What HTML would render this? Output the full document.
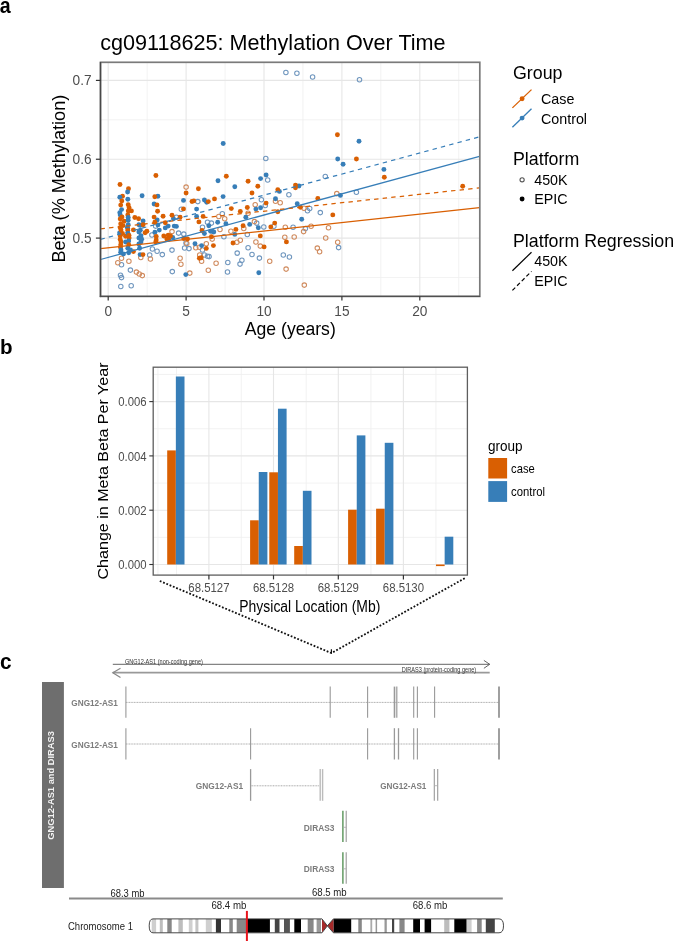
<!DOCTYPE html>
<html><head><meta charset="utf-8"><style>
html,body{margin:0;padding:0;background:#fff;}
body{width:674px;height:941px;overflow:hidden;}
svg{display:block;font-family:"Liberation Sans", sans-serif;will-change:transform;}
</style></head><body>
<svg width="674" height="941" viewBox="0 0 674 941">
<text transform="translate(-0.3,12.7) scale(1,1.12)" x="0" y="0" font-size="19.6" fill="#000" text-anchor="start" font-weight="bold" >a</text>
<text transform="translate(100.3,49.9) scale(1,1.06)" x="0" y="0" font-size="21.6" fill="#000" text-anchor="start" font-weight="normal" >cg09118625: Methylation Over Time</text>
<rect x="100.5" y="62.6" width="379.0" height="233.79999999999998" fill="#fff"/>
<line x1="147.15" y1="62.6" x2="147.15" y2="296.4" stroke="#efefef" stroke-width="0.8"/>
<line x1="225.05" y1="62.6" x2="225.05" y2="296.4" stroke="#efefef" stroke-width="0.8"/>
<line x1="302.95" y1="62.6" x2="302.95" y2="296.4" stroke="#efefef" stroke-width="0.8"/>
<line x1="380.85" y1="62.6" x2="380.85" y2="296.4" stroke="#efefef" stroke-width="0.8"/>
<line x1="458.75" y1="62.6" x2="458.75" y2="296.4" stroke="#efefef" stroke-width="0.8"/>
<line x1="100.5" y1="119.82" x2="479.5" y2="119.82" stroke="#efefef" stroke-width="0.8"/>
<line x1="100.5" y1="198.67" x2="479.5" y2="198.67" stroke="#efefef" stroke-width="0.8"/>
<line x1="100.5" y1="277.52" x2="479.5" y2="277.52" stroke="#efefef" stroke-width="0.8"/>
<line x1="108.20" y1="62.6" x2="108.20" y2="296.4" stroke="#e6e6e6" stroke-width="1.1"/>
<line x1="186.10" y1="62.6" x2="186.10" y2="296.4" stroke="#e6e6e6" stroke-width="1.1"/>
<line x1="264.00" y1="62.6" x2="264.00" y2="296.4" stroke="#e6e6e6" stroke-width="1.1"/>
<line x1="341.90" y1="62.6" x2="341.90" y2="296.4" stroke="#e6e6e6" stroke-width="1.1"/>
<line x1="419.80" y1="62.6" x2="419.80" y2="296.4" stroke="#e6e6e6" stroke-width="1.1"/>
<line x1="100.5" y1="80.40" x2="479.5" y2="80.40" stroke="#e6e6e6" stroke-width="1.1"/>
<line x1="100.5" y1="159.25" x2="479.5" y2="159.25" stroke="#e6e6e6" stroke-width="1.1"/>
<line x1="100.5" y1="238.10" x2="479.5" y2="238.10" stroke="#e6e6e6" stroke-width="1.1"/>
<g>
<circle cx="285.9" cy="72.4" r="2.25" fill="none" stroke="#6F96BE" stroke-width="1.05"/>
<circle cx="296.9" cy="73.3" r="2.25" fill="none" stroke="#6F96BE" stroke-width="1.05"/>
<circle cx="312.6" cy="77.0" r="2.25" fill="none" stroke="#6F96BE" stroke-width="1.05"/>
<circle cx="359.5" cy="79.8" r="2.25" fill="none" stroke="#6F96BE" stroke-width="1.05"/>
<circle cx="265.8" cy="158.4" r="2.25" fill="none" stroke="#6F96BE" stroke-width="1.05"/>
<circle cx="325.3" cy="176.5" r="2.25" fill="none" stroke="#6F96BE" stroke-width="1.05"/>
<circle cx="288.9" cy="194.8" r="2.25" fill="none" stroke="#6F96BE" stroke-width="1.05"/>
<circle cx="356.4" cy="192.2" r="2.25" fill="none" stroke="#6F96BE" stroke-width="1.05"/>
<circle cx="307.5" cy="210.8" r="2.25" fill="none" stroke="#6F96BE" stroke-width="1.05"/>
<circle cx="309.7" cy="208.5" r="2.25" fill="none" stroke="#6F96BE" stroke-width="1.05"/>
<circle cx="320.3" cy="212.6" r="2.25" fill="none" stroke="#6F96BE" stroke-width="1.05"/>
<circle cx="305.4" cy="228.6" r="2.25" fill="none" stroke="#6F96BE" stroke-width="1.05"/>
<circle cx="338.6" cy="247.6" r="2.25" fill="none" stroke="#6F96BE" stroke-width="1.05"/>
<circle cx="289.4" cy="257.0" r="2.25" fill="none" stroke="#6F96BE" stroke-width="1.05"/>
<circle cx="267.7" cy="180.0" r="2.25" fill="none" stroke="#6F96BE" stroke-width="1.05"/>
<circle cx="261.4" cy="199.7" r="2.25" fill="none" stroke="#6F96BE" stroke-width="1.05"/>
<circle cx="265.3" cy="205.5" r="2.25" fill="none" stroke="#6F96BE" stroke-width="1.05"/>
<circle cx="222.3" cy="213.8" r="2.25" fill="none" stroke="#6F96BE" stroke-width="1.05"/>
<circle cx="197.8" cy="201.6" r="2.25" fill="none" stroke="#6F96BE" stroke-width="1.05"/>
<circle cx="207.5" cy="222.2" r="2.25" fill="none" stroke="#6F96BE" stroke-width="1.05"/>
<circle cx="211.4" cy="223.1" r="2.25" fill="none" stroke="#6F96BE" stroke-width="1.05"/>
<circle cx="256.7" cy="223.1" r="2.25" fill="none" stroke="#6F96BE" stroke-width="1.05"/>
<circle cx="202.5" cy="227.3" r="2.25" fill="none" stroke="#6F96BE" stroke-width="1.05"/>
<circle cx="263.8" cy="227.0" r="2.25" fill="none" stroke="#6F96BE" stroke-width="1.05"/>
<circle cx="273.9" cy="226.3" r="2.25" fill="none" stroke="#6F96BE" stroke-width="1.05"/>
<circle cx="293.1" cy="227.3" r="2.25" fill="none" stroke="#6F96BE" stroke-width="1.05"/>
<circle cx="223.9" cy="236.7" r="2.25" fill="none" stroke="#6F96BE" stroke-width="1.05"/>
<circle cx="247.3" cy="234.4" r="2.25" fill="none" stroke="#6F96BE" stroke-width="1.05"/>
<circle cx="248.1" cy="247.7" r="2.25" fill="none" stroke="#6F96BE" stroke-width="1.05"/>
<circle cx="202.5" cy="250.0" r="2.25" fill="none" stroke="#6F96BE" stroke-width="1.05"/>
<circle cx="237.2" cy="253.1" r="2.25" fill="none" stroke="#6F96BE" stroke-width="1.05"/>
<circle cx="252.0" cy="254.4" r="2.25" fill="none" stroke="#6F96BE" stroke-width="1.05"/>
<circle cx="259.4" cy="258.1" r="2.25" fill="none" stroke="#6F96BE" stroke-width="1.05"/>
<circle cx="283.3" cy="255.0" r="2.25" fill="none" stroke="#6F96BE" stroke-width="1.05"/>
<circle cx="204.4" cy="255.0" r="2.25" fill="none" stroke="#6F96BE" stroke-width="1.05"/>
<circle cx="207.5" cy="256.3" r="2.25" fill="none" stroke="#6F96BE" stroke-width="1.05"/>
<circle cx="209.1" cy="256.6" r="2.25" fill="none" stroke="#6F96BE" stroke-width="1.05"/>
<circle cx="227.8" cy="262.5" r="2.25" fill="none" stroke="#6F96BE" stroke-width="1.05"/>
<circle cx="241.9" cy="260.2" r="2.25" fill="none" stroke="#6F96BE" stroke-width="1.05"/>
<circle cx="240.0" cy="264.1" r="2.25" fill="none" stroke="#6F96BE" stroke-width="1.05"/>
<circle cx="227.5" cy="271.9" r="2.25" fill="none" stroke="#6F96BE" stroke-width="1.05"/>
<circle cx="181.3" cy="209.3" r="2.25" fill="none" stroke="#6F96BE" stroke-width="1.05"/>
<circle cx="176.4" cy="217.2" r="2.25" fill="none" stroke="#6F96BE" stroke-width="1.05"/>
<circle cx="155.6" cy="226.1" r="2.25" fill="none" stroke="#6F96BE" stroke-width="1.05"/>
<circle cx="178.6" cy="233.1" r="2.25" fill="none" stroke="#6F96BE" stroke-width="1.05"/>
<circle cx="183.8" cy="234.1" r="2.25" fill="none" stroke="#6F96BE" stroke-width="1.05"/>
<circle cx="151.9" cy="235.0" r="2.25" fill="none" stroke="#6F96BE" stroke-width="1.05"/>
<circle cx="186.0" cy="243.0" r="2.25" fill="none" stroke="#6F96BE" stroke-width="1.05"/>
<circle cx="184.6" cy="247.9" r="2.25" fill="none" stroke="#6F96BE" stroke-width="1.05"/>
<circle cx="189.0" cy="248.6" r="2.25" fill="none" stroke="#6F96BE" stroke-width="1.05"/>
<circle cx="172.0" cy="250.1" r="2.25" fill="none" stroke="#6F96BE" stroke-width="1.05"/>
<circle cx="157.1" cy="251.3" r="2.25" fill="none" stroke="#6F96BE" stroke-width="1.05"/>
<circle cx="162.3" cy="254.6" r="2.25" fill="none" stroke="#6F96BE" stroke-width="1.05"/>
<circle cx="149.7" cy="254.9" r="2.25" fill="none" stroke="#6F96BE" stroke-width="1.05"/>
<circle cx="121.5" cy="264.7" r="2.25" fill="none" stroke="#6F96BE" stroke-width="1.05"/>
<circle cx="130.4" cy="270.1" r="2.25" fill="none" stroke="#6F96BE" stroke-width="1.05"/>
<circle cx="120.5" cy="275.3" r="2.25" fill="none" stroke="#6F96BE" stroke-width="1.05"/>
<circle cx="121.5" cy="277.6" r="2.25" fill="none" stroke="#6F96BE" stroke-width="1.05"/>
<circle cx="120.8" cy="286.5" r="2.25" fill="none" stroke="#6F96BE" stroke-width="1.05"/>
<circle cx="131.2" cy="285.7" r="2.25" fill="none" stroke="#6F96BE" stroke-width="1.05"/>
<circle cx="172.3" cy="271.6" r="2.25" fill="none" stroke="#6F96BE" stroke-width="1.05"/>
<circle cx="152.4" cy="248.9" r="2.25" fill="none" stroke="#6F96BE" stroke-width="1.05"/>
<circle cx="336.8" cy="193.6" r="2.25" fill="none" stroke="#D08B5E" stroke-width="1.05"/>
<circle cx="304.0" cy="208.2" r="2.25" fill="none" stroke="#D08B5E" stroke-width="1.05"/>
<circle cx="303.6" cy="231.6" r="2.25" fill="none" stroke="#D08B5E" stroke-width="1.05"/>
<circle cx="311.1" cy="226.3" r="2.25" fill="none" stroke="#D08B5E" stroke-width="1.05"/>
<circle cx="328.5" cy="227.7" r="2.25" fill="none" stroke="#D08B5E" stroke-width="1.05"/>
<circle cx="294.2" cy="236.9" r="2.25" fill="none" stroke="#D08B5E" stroke-width="1.05"/>
<circle cx="325.7" cy="238.0" r="2.25" fill="none" stroke="#D08B5E" stroke-width="1.05"/>
<circle cx="337.7" cy="242.3" r="2.25" fill="none" stroke="#D08B5E" stroke-width="1.05"/>
<circle cx="317.3" cy="248.1" r="2.25" fill="none" stroke="#D08B5E" stroke-width="1.05"/>
<circle cx="319.6" cy="251.7" r="2.25" fill="none" stroke="#D08B5E" stroke-width="1.05"/>
<circle cx="304.3" cy="285.1" r="2.25" fill="none" stroke="#D08B5E" stroke-width="1.05"/>
<circle cx="275.5" cy="201.3" r="2.25" fill="none" stroke="#D08B5E" stroke-width="1.05"/>
<circle cx="280.2" cy="202.8" r="2.25" fill="none" stroke="#D08B5E" stroke-width="1.05"/>
<circle cx="255.2" cy="204.7" r="2.25" fill="none" stroke="#D08B5E" stroke-width="1.05"/>
<circle cx="248.1" cy="213.3" r="2.25" fill="none" stroke="#D08B5E" stroke-width="1.05"/>
<circle cx="218.8" cy="216.4" r="2.25" fill="none" stroke="#D08B5E" stroke-width="1.05"/>
<circle cx="224.7" cy="218.8" r="2.25" fill="none" stroke="#D08B5E" stroke-width="1.05"/>
<circle cx="254.4" cy="221.6" r="2.25" fill="none" stroke="#D08B5E" stroke-width="1.05"/>
<circle cx="220.0" cy="229.4" r="2.25" fill="none" stroke="#D08B5E" stroke-width="1.05"/>
<circle cx="243.8" cy="228.4" r="2.25" fill="none" stroke="#D08B5E" stroke-width="1.05"/>
<circle cx="230.9" cy="231.3" r="2.25" fill="none" stroke="#D08B5E" stroke-width="1.05"/>
<circle cx="212.2" cy="239.1" r="2.25" fill="none" stroke="#D08B5E" stroke-width="1.05"/>
<circle cx="284.8" cy="237.2" r="2.25" fill="none" stroke="#D08B5E" stroke-width="1.05"/>
<circle cx="255.9" cy="241.9" r="2.25" fill="none" stroke="#D08B5E" stroke-width="1.05"/>
<circle cx="236.9" cy="242.2" r="2.25" fill="none" stroke="#D08B5E" stroke-width="1.05"/>
<circle cx="240.3" cy="240.3" r="2.25" fill="none" stroke="#D08B5E" stroke-width="1.05"/>
<circle cx="206.3" cy="243.8" r="2.25" fill="none" stroke="#D08B5E" stroke-width="1.05"/>
<circle cx="195.8" cy="247.7" r="2.25" fill="none" stroke="#D08B5E" stroke-width="1.05"/>
<circle cx="260.3" cy="246.1" r="2.25" fill="none" stroke="#D08B5E" stroke-width="1.05"/>
<circle cx="199.7" cy="255.0" r="2.25" fill="none" stroke="#D08B5E" stroke-width="1.05"/>
<circle cx="201.6" cy="261.3" r="2.25" fill="none" stroke="#D08B5E" stroke-width="1.05"/>
<circle cx="216.1" cy="263.3" r="2.25" fill="none" stroke="#D08B5E" stroke-width="1.05"/>
<circle cx="269.7" cy="261.3" r="2.25" fill="none" stroke="#D08B5E" stroke-width="1.05"/>
<circle cx="208.3" cy="270.3" r="2.25" fill="none" stroke="#D08B5E" stroke-width="1.05"/>
<circle cx="286.1" cy="269.1" r="2.25" fill="none" stroke="#D08B5E" stroke-width="1.05"/>
<circle cx="285.3" cy="227.3" r="2.25" fill="none" stroke="#D08B5E" stroke-width="1.05"/>
<circle cx="186.1" cy="187.1" r="2.25" fill="none" stroke="#D08B5E" stroke-width="1.05"/>
<circle cx="172.0" cy="231.6" r="2.25" fill="none" stroke="#D08B5E" stroke-width="1.05"/>
<circle cx="186.8" cy="243.4" r="2.25" fill="none" stroke="#D08B5E" stroke-width="1.05"/>
<circle cx="199.4" cy="247.2" r="2.25" fill="none" stroke="#D08B5E" stroke-width="1.05"/>
<circle cx="150.4" cy="259.0" r="2.25" fill="none" stroke="#D08B5E" stroke-width="1.05"/>
<circle cx="140.8" cy="257.5" r="2.25" fill="none" stroke="#D08B5E" stroke-width="1.05"/>
<circle cx="121.5" cy="258.3" r="2.25" fill="none" stroke="#D08B5E" stroke-width="1.05"/>
<circle cx="117.8" cy="262.7" r="2.25" fill="none" stroke="#D08B5E" stroke-width="1.05"/>
<circle cx="128.9" cy="261.2" r="2.25" fill="none" stroke="#D08B5E" stroke-width="1.05"/>
<circle cx="180.1" cy="258.3" r="2.25" fill="none" stroke="#D08B5E" stroke-width="1.05"/>
<circle cx="180.9" cy="264.2" r="2.25" fill="none" stroke="#D08B5E" stroke-width="1.05"/>
<circle cx="136.4" cy="272.1" r="2.25" fill="none" stroke="#D08B5E" stroke-width="1.05"/>
<circle cx="139.3" cy="273.9" r="2.25" fill="none" stroke="#D08B5E" stroke-width="1.05"/>
<circle cx="142.3" cy="275.6" r="2.25" fill="none" stroke="#D08B5E" stroke-width="1.05"/>
<circle cx="189.8" cy="273.1" r="2.25" fill="none" stroke="#D08B5E" stroke-width="1.05"/>
<circle cx="223.2" cy="143.5" r="2.45" fill="#377EB8"/>
<circle cx="337.7" cy="159.0" r="2.45" fill="#377EB8"/>
<circle cx="359.0" cy="141.2" r="2.45" fill="#377EB8"/>
<circle cx="343.1" cy="164.3" r="2.45" fill="#377EB8"/>
<circle cx="383.9" cy="169.4" r="2.45" fill="#377EB8"/>
<circle cx="299.0" cy="186.0" r="2.45" fill="#377EB8"/>
<circle cx="340.4" cy="195.4" r="2.45" fill="#377EB8"/>
<circle cx="297.2" cy="203.7" r="2.45" fill="#377EB8"/>
<circle cx="301.7" cy="219.2" r="2.45" fill="#377EB8"/>
<circle cx="266.1" cy="175.0" r="2.45" fill="#377EB8"/>
<circle cx="260.6" cy="178.6" r="2.45" fill="#377EB8"/>
<circle cx="218.0" cy="180.8" r="2.45" fill="#377EB8"/>
<circle cx="234.8" cy="186.7" r="2.45" fill="#377EB8"/>
<circle cx="279.4" cy="191.4" r="2.45" fill="#377EB8"/>
<circle cx="223.1" cy="196.6" r="2.45" fill="#377EB8"/>
<circle cx="204.4" cy="200.0" r="2.45" fill="#377EB8"/>
<circle cx="206.7" cy="202.3" r="2.45" fill="#377EB8"/>
<circle cx="275.5" cy="198.8" r="2.45" fill="#377EB8"/>
<circle cx="196.6" cy="209.1" r="2.45" fill="#377EB8"/>
<circle cx="255.9" cy="209.1" r="2.45" fill="#377EB8"/>
<circle cx="260.6" cy="207.8" r="2.45" fill="#377EB8"/>
<circle cx="196.6" cy="216.4" r="2.45" fill="#377EB8"/>
<circle cx="245.8" cy="217.2" r="2.45" fill="#377EB8"/>
<circle cx="217.7" cy="222.2" r="2.45" fill="#377EB8"/>
<circle cx="225.9" cy="223.8" r="2.45" fill="#377EB8"/>
<circle cx="208.8" cy="225.8" r="2.45" fill="#377EB8"/>
<circle cx="249.7" cy="224.4" r="2.45" fill="#377EB8"/>
<circle cx="258.3" cy="227.7" r="2.45" fill="#377EB8"/>
<circle cx="212.2" cy="231.3" r="2.45" fill="#377EB8"/>
<circle cx="213.8" cy="232.0" r="2.45" fill="#377EB8"/>
<circle cx="210.6" cy="231.3" r="2.45" fill="#377EB8"/>
<circle cx="204.4" cy="233.6" r="2.45" fill="#377EB8"/>
<circle cx="195.0" cy="243.8" r="2.45" fill="#377EB8"/>
<circle cx="258.8" cy="272.7" r="2.45" fill="#377EB8"/>
<circle cx="201.6" cy="245.6" r="2.45" fill="#377EB8"/>
<circle cx="234.8" cy="234.4" r="2.45" fill="#377EB8"/>
<circle cx="142.1" cy="195.8" r="2.45" fill="#377EB8"/>
<circle cx="157.9" cy="196.3" r="2.45" fill="#377EB8"/>
<circle cx="183.5" cy="200.4" r="2.45" fill="#377EB8"/>
<circle cx="173.4" cy="218.7" r="2.45" fill="#377EB8"/>
<circle cx="157.9" cy="224.9" r="2.45" fill="#377EB8"/>
<circle cx="165.3" cy="227.9" r="2.45" fill="#377EB8"/>
<circle cx="168.2" cy="226.1" r="2.45" fill="#377EB8"/>
<circle cx="174.2" cy="226.1" r="2.45" fill="#377EB8"/>
<circle cx="176.4" cy="226.4" r="2.45" fill="#377EB8"/>
<circle cx="159.3" cy="230.1" r="2.45" fill="#377EB8"/>
<circle cx="154.9" cy="232.3" r="2.45" fill="#377EB8"/>
<circle cx="172.7" cy="237.5" r="2.45" fill="#377EB8"/>
<circle cx="140.1" cy="254.6" r="2.45" fill="#377EB8"/>
<circle cx="185.8" cy="274.6" r="2.45" fill="#377EB8"/>
<circle cx="154.1" cy="204.0" r="2.45" fill="#377EB8"/>
<circle cx="143.1" cy="220.9" r="2.45" fill="#377EB8"/>
<circle cx="157.2" cy="219.9" r="2.45" fill="#377EB8"/>
<circle cx="140.3" cy="225.4" r="2.45" fill="#377EB8"/>
<circle cx="140.3" cy="230.2" r="2.45" fill="#377EB8"/>
<circle cx="141.0" cy="235.8" r="2.45" fill="#377EB8"/>
<circle cx="141.7" cy="239.2" r="2.45" fill="#377EB8"/>
<circle cx="141.0" cy="242.0" r="2.45" fill="#377EB8"/>
<circle cx="139.6" cy="248.2" r="2.45" fill="#377EB8"/>
<circle cx="138.9" cy="224.7" r="2.45" fill="#377EB8"/>
<circle cx="138.9" cy="232.0" r="2.45" fill="#377EB8"/>
<circle cx="138.9" cy="238.0" r="2.45" fill="#377EB8"/>
<circle cx="138.9" cy="244.0" r="2.45" fill="#377EB8"/>
<circle cx="337.4" cy="134.8" r="2.45" fill="#D95F02"/>
<circle cx="356.4" cy="159.0" r="2.45" fill="#D95F02"/>
<circle cx="384.3" cy="177.2" r="2.45" fill="#D95F02"/>
<circle cx="295.5" cy="185.1" r="2.45" fill="#D95F02"/>
<circle cx="295.5" cy="187.7" r="2.45" fill="#D95F02"/>
<circle cx="317.8" cy="198.4" r="2.45" fill="#D95F02"/>
<circle cx="300.4" cy="207.3" r="2.45" fill="#D95F02"/>
<circle cx="332.8" cy="214.9" r="2.45" fill="#D95F02"/>
<circle cx="462.7" cy="186.2" r="2.45" fill="#D95F02"/>
<circle cx="226.3" cy="176.3" r="2.45" fill="#D95F02"/>
<circle cx="248.1" cy="181.3" r="2.45" fill="#D95F02"/>
<circle cx="257.8" cy="186.3" r="2.45" fill="#D95F02"/>
<circle cx="198.4" cy="188.8" r="2.45" fill="#D95F02"/>
<circle cx="252.0" cy="193.0" r="2.45" fill="#D95F02"/>
<circle cx="277.8" cy="189.8" r="2.45" fill="#D95F02"/>
<circle cx="214.5" cy="198.9" r="2.45" fill="#D95F02"/>
<circle cx="208.3" cy="201.6" r="2.45" fill="#D95F02"/>
<circle cx="266.1" cy="203.1" r="2.45" fill="#D95F02"/>
<circle cx="231.3" cy="208.6" r="2.45" fill="#D95F02"/>
<circle cx="247.3" cy="207.5" r="2.45" fill="#D95F02"/>
<circle cx="240.3" cy="211.4" r="2.45" fill="#D95F02"/>
<circle cx="277.8" cy="211.7" r="2.45" fill="#D95F02"/>
<circle cx="203.1" cy="216.4" r="2.45" fill="#D95F02"/>
<circle cx="198.9" cy="221.9" r="2.45" fill="#D95F02"/>
<circle cx="274.7" cy="223.1" r="2.45" fill="#D95F02"/>
<circle cx="243.1" cy="225.8" r="2.45" fill="#D95F02"/>
<circle cx="270.8" cy="226.9" r="2.45" fill="#D95F02"/>
<circle cx="202.0" cy="230.5" r="2.45" fill="#D95F02"/>
<circle cx="235.9" cy="229.4" r="2.45" fill="#D95F02"/>
<circle cx="211.4" cy="236.7" r="2.45" fill="#D95F02"/>
<circle cx="260.3" cy="235.9" r="2.45" fill="#D95F02"/>
<circle cx="286.4" cy="241.9" r="2.45" fill="#D95F02"/>
<circle cx="233.0" cy="243.0" r="2.45" fill="#D95F02"/>
<circle cx="213.4" cy="245.6" r="2.45" fill="#D95F02"/>
<circle cx="206.3" cy="248.4" r="2.45" fill="#D95F02"/>
<circle cx="264.1" cy="246.9" r="2.45" fill="#D95F02"/>
<circle cx="201.3" cy="257.8" r="2.45" fill="#D95F02"/>
<circle cx="155.9" cy="175.5" r="2.45" fill="#D95F02"/>
<circle cx="186.1" cy="193.0" r="2.45" fill="#D95F02"/>
<circle cx="192.0" cy="201.5" r="2.45" fill="#D95F02"/>
<circle cx="193.8" cy="200.9" r="2.45" fill="#D95F02"/>
<circle cx="183.5" cy="208.9" r="2.45" fill="#D95F02"/>
<circle cx="163.1" cy="216.3" r="2.45" fill="#D95F02"/>
<circle cx="172.0" cy="215.3" r="2.45" fill="#D95F02"/>
<circle cx="180.1" cy="217.2" r="2.45" fill="#D95F02"/>
<circle cx="165.3" cy="222.7" r="2.45" fill="#D95F02"/>
<circle cx="163.8" cy="236.0" r="2.45" fill="#D95F02"/>
<circle cx="168.2" cy="235.3" r="2.45" fill="#D95F02"/>
<circle cx="170.5" cy="236.0" r="2.45" fill="#D95F02"/>
<circle cx="166.8" cy="239.0" r="2.45" fill="#D95F02"/>
<circle cx="183.8" cy="238.5" r="2.45" fill="#D95F02"/>
<circle cx="187.5" cy="239.0" r="2.45" fill="#D95F02"/>
<circle cx="199.4" cy="258.3" r="2.45" fill="#D95F02"/>
<circle cx="143.0" cy="254.6" r="2.45" fill="#D95F02"/>
<circle cx="154.8" cy="196.7" r="2.45" fill="#D95F02"/>
<circle cx="157.0" cy="204.9" r="2.45" fill="#D95F02"/>
<circle cx="157.6" cy="211.2" r="2.45" fill="#D95F02"/>
<circle cx="134.8" cy="217.5" r="2.45" fill="#D95F02"/>
<circle cx="138.6" cy="218.8" r="2.45" fill="#D95F02"/>
<circle cx="154.1" cy="217.1" r="2.45" fill="#D95F02"/>
<circle cx="154.8" cy="222.3" r="2.45" fill="#D95F02"/>
<circle cx="143.1" cy="224.7" r="2.45" fill="#D95F02"/>
<circle cx="133.4" cy="229.9" r="2.45" fill="#D95F02"/>
<circle cx="146.9" cy="231.3" r="2.45" fill="#D95F02"/>
<circle cx="145.1" cy="232.7" r="2.45" fill="#D95F02"/>
<circle cx="156.2" cy="236.5" r="2.45" fill="#D95F02"/>
<circle cx="156.2" cy="239.9" r="2.45" fill="#D95F02"/>
<circle cx="155.8" cy="242.0" r="2.45" fill="#D95F02"/>
<circle cx="168.6" cy="239.2" r="2.45" fill="#D95F02"/>
<circle cx="133.4" cy="251.6" r="2.45" fill="#D95F02"/>
<circle cx="131.4" cy="210.9" r="2.45" fill="#D95F02"/>
<circle cx="120.0" cy="184.5" r="2.45" fill="#D95F02"/>
<circle cx="122.5" cy="196.2" r="2.45" fill="#D95F02"/>
<circle cx="119.8" cy="197.3" r="2.45" fill="#377EB8"/>
<circle cx="121.8" cy="200.9" r="2.45" fill="#D95F02"/>
<circle cx="120.7" cy="205.1" r="2.45" fill="#D95F02"/>
<circle cx="121.6" cy="209.6" r="2.45" fill="#377EB8"/>
<circle cx="119.8" cy="212.7" r="2.45" fill="#377EB8"/>
<circle cx="120.2" cy="214.9" r="2.45" fill="#377EB8"/>
<circle cx="120.2" cy="218.9" r="2.45" fill="#D95F02"/>
<circle cx="124.2" cy="221.2" r="2.45" fill="#D95F02"/>
<circle cx="120.7" cy="223.8" r="2.45" fill="#D95F02"/>
<circle cx="123.0" cy="225.6" r="2.45" fill="#D95F02"/>
<circle cx="120.2" cy="227.8" r="2.45" fill="#D95F02"/>
<circle cx="119.6" cy="233.0" r="2.45" fill="#377EB8"/>
<circle cx="121.0" cy="230.0" r="2.45" fill="#D95F02"/>
<circle cx="120.2" cy="236.0" r="2.45" fill="#D95F02"/>
<circle cx="120.2" cy="239.4" r="2.45" fill="#D95F02"/>
<circle cx="121.0" cy="242.0" r="2.45" fill="#D95F02"/>
<circle cx="120.7" cy="244.7" r="2.45" fill="#D95F02"/>
<circle cx="120.5" cy="247.5" r="2.45" fill="#D95F02"/>
<circle cx="121.0" cy="250.0" r="2.45" fill="#377EB8"/>
<circle cx="120.7" cy="252.3" r="2.45" fill="#377EB8"/>
<circle cx="123.4" cy="254.0" r="2.45" fill="#377EB8"/>
<circle cx="125.6" cy="242.0" r="2.45" fill="#377EB8"/>
<circle cx="125.6" cy="236.2" r="2.45" fill="#D95F02"/>
<circle cx="122.5" cy="233.5" r="2.45" fill="#D95F02"/>
<circle cx="122.0" cy="217.0" r="2.45" fill="#D95F02"/>
<circle cx="128.5" cy="188.8" r="2.45" fill="#D95F02"/>
<circle cx="127.6" cy="192.0" r="2.45" fill="#377EB8"/>
<circle cx="127.8" cy="199.3" r="2.45" fill="#377EB8"/>
<circle cx="128.2" cy="204.7" r="2.45" fill="#D95F02"/>
<circle cx="129.1" cy="207.8" r="2.45" fill="#D95F02"/>
<circle cx="128.3" cy="211.0" r="2.45" fill="#D95F02"/>
<circle cx="127.8" cy="214.9" r="2.45" fill="#D95F02"/>
<circle cx="128.2" cy="217.5" r="2.45" fill="#377EB8"/>
<circle cx="128.2" cy="220.3" r="2.45" fill="#377EB8"/>
<circle cx="128.2" cy="224.7" r="2.45" fill="#377EB8"/>
<circle cx="127.8" cy="228.7" r="2.45" fill="#D95F02"/>
<circle cx="127.4" cy="227.3" r="2.45" fill="#377EB8"/>
<circle cx="127.8" cy="230.5" r="2.45" fill="#D95F02"/>
<circle cx="129.1" cy="238.0" r="2.45" fill="#D95F02"/>
<circle cx="128.7" cy="241.0" r="2.45" fill="#377EB8"/>
<circle cx="128.7" cy="244.7" r="2.45" fill="#D95F02"/>
<circle cx="127.8" cy="248.3" r="2.45" fill="#377EB8"/>
<circle cx="128.7" cy="252.7" r="2.45" fill="#377EB8"/>
<circle cx="130.5" cy="250.0" r="2.45" fill="#377EB8"/>
<circle cx="128.0" cy="233.5" r="2.45" fill="#377EB8"/>
<circle cx="129.0" cy="235.5" r="2.45" fill="#D95F02"/>
</g>
<line x1="100.5" y1="248.6" x2="479.5" y2="207.7" stroke="#D95F02" stroke-width="1.25" />
<line x1="100.5" y1="259.5" x2="479.5" y2="156.4" stroke="#377EB8" stroke-width="1.25" />
<line x1="100.5" y1="228.8" x2="479.5" y2="187.9" stroke="#D95F02" stroke-width="1.25" stroke-dasharray="4.4,4.2"/>
<line x1="100.5" y1="239.4" x2="479.5" y2="136.8" stroke="#377EB8" stroke-width="1.25" stroke-dasharray="4.4,4.2"/>
<rect x="100.5" y="62.3" width="379.3" height="234.09999999999997" fill="none" stroke="#7a7a7a" stroke-width="1.7"/>
<line x1="100.5" y1="62.0" x2="100.5" y2="297.09999999999997" stroke="#484848" stroke-width="1.4"/>
<line x1="99.8" y1="296.4" x2="480.1" y2="296.4" stroke="#505050" stroke-width="1.4"/>
<line x1="95.9" y1="80.40" x2="100.5" y2="80.40" stroke="#333" stroke-width="1.2"/>
<text transform="translate(91.6,85.40) scale(1,1.08)" x="0" y="0" font-size="13.7" fill="#4d4d4d" text-anchor="end" font-weight="normal" >0.7</text>
<line x1="95.9" y1="159.25" x2="100.5" y2="159.25" stroke="#333" stroke-width="1.2"/>
<text transform="translate(91.6,164.25) scale(1,1.08)" x="0" y="0" font-size="13.7" fill="#4d4d4d" text-anchor="end" font-weight="normal" >0.6</text>
<line x1="95.9" y1="238.10" x2="100.5" y2="238.10" stroke="#333" stroke-width="1.2"/>
<text transform="translate(91.6,243.10) scale(1,1.08)" x="0" y="0" font-size="13.7" fill="#4d4d4d" text-anchor="end" font-weight="normal" >0.5</text>
<line x1="108.20" y1="296.4" x2="108.20" y2="300.6" stroke="#333" stroke-width="1.2"/>
<text transform="translate(108.20,315.6) scale(1,1.08)" x="0" y="0" font-size="13.7" fill="#4d4d4d" text-anchor="middle" font-weight="normal" >0</text>
<line x1="186.10" y1="296.4" x2="186.10" y2="300.6" stroke="#333" stroke-width="1.2"/>
<text transform="translate(186.10,315.6) scale(1,1.08)" x="0" y="0" font-size="13.7" fill="#4d4d4d" text-anchor="middle" font-weight="normal" >5</text>
<line x1="264.00" y1="296.4" x2="264.00" y2="300.6" stroke="#333" stroke-width="1.2"/>
<text transform="translate(264.00,315.6) scale(1,1.08)" x="0" y="0" font-size="13.7" fill="#4d4d4d" text-anchor="middle" font-weight="normal" >10</text>
<line x1="341.90" y1="296.4" x2="341.90" y2="300.6" stroke="#333" stroke-width="1.2"/>
<text transform="translate(341.90,315.6) scale(1,1.08)" x="0" y="0" font-size="13.7" fill="#4d4d4d" text-anchor="middle" font-weight="normal" >15</text>
<line x1="419.80" y1="296.4" x2="419.80" y2="300.6" stroke="#333" stroke-width="1.2"/>
<text transform="translate(419.80,315.6) scale(1,1.08)" x="0" y="0" font-size="13.7" fill="#4d4d4d" text-anchor="middle" font-weight="normal" >20</text>
<text transform="translate(290.3,335.3) scale(1,1.06)" x="0" y="0" font-size="17.6" fill="#000" text-anchor="middle" font-weight="normal" >Age (years)</text>
<text transform="translate(65,178.7) rotate(-90) scale(1,1.02)" x="0" y="0" font-size="18.1" text-anchor="middle">Beta (% Methylation)</text>
<text transform="translate(513.0,78.9) scale(1,1.04)" x="0" y="0" font-size="17.8" fill="#000" text-anchor="start" font-weight="normal" >Group</text>
<line x1="512.4" y1="107.9" x2="531.5" y2="89.6" stroke="#D95F02" stroke-width="1.3"/>
<circle cx="522.1" cy="98.7" r="2.45" fill="#D95F02"/>
<line x1="512.4" y1="127.3" x2="531.5" y2="108.7" stroke="#377EB8" stroke-width="1.3"/>
<circle cx="522.1" cy="118.1" r="2.45" fill="#377EB8"/>
<text transform="translate(541.0,104.4) scale(1,1.06)" x="0" y="0" font-size="14.3" fill="#000" text-anchor="start" font-weight="normal" >Case</text>
<text transform="translate(541.0,124.0) scale(1,1.06)" x="0" y="0" font-size="14.3" fill="#000" text-anchor="start" font-weight="normal" >Control</text>
<text transform="translate(513.0,164.7) scale(1,1.04)" x="0" y="0" font-size="17.8" fill="#000" text-anchor="start" font-weight="normal" >Platform</text>
<circle cx="522.1" cy="179.8" r="2.1" fill="none" stroke="#555" stroke-width="1.1"/>
<circle cx="522.1" cy="199.0" r="2.45" fill="#000"/>
<text transform="translate(534.2,184.5) scale(1,1.06)" x="0" y="0" font-size="14.3" fill="#000" text-anchor="start" font-weight="normal" >450K</text>
<text transform="translate(534.2,204.0) scale(1,1.06)" x="0" y="0" font-size="14.3" fill="#000" text-anchor="start" font-weight="normal" >EPIC</text>
<text transform="translate(513.0,246.7) scale(1,1.04)" x="0" y="0" font-size="17.8" fill="#000" text-anchor="start" font-weight="normal" >Platform Regression</text>
<line x1="512.4" y1="270.8" x2="531.5" y2="252.2" stroke="#000" stroke-width="1.2"/>
<line x1="512.4" y1="290.4" x2="531.5" y2="271.3" stroke="#000" stroke-width="1.2" stroke-dasharray="4,2.6"/>
<text transform="translate(534.2,266.1) scale(1,1.06)" x="0" y="0" font-size="14.3" fill="#000" text-anchor="start" font-weight="normal" >450K</text>
<text transform="translate(534.2,285.6) scale(1,1.06)" x="0" y="0" font-size="14.3" fill="#000" text-anchor="start" font-weight="normal" >EPIC</text>
<text transform="translate(0.0,353.5) scale(1.05,1.02)" x="0" y="0" font-size="19.6" fill="#000" text-anchor="start" font-weight="bold" >b</text>
<rect x="153.2" y="367.2" width="314.2" height="207.90000000000003" fill="#fff"/>
<line x1="157.9" y1="367.2" x2="157.9" y2="575.1" stroke="#efefef" stroke-width="0.8"/>
<line x1="176.5" y1="367.2" x2="176.5" y2="575.1" stroke="#efefef" stroke-width="0.8"/>
<line x1="241.3" y1="367.2" x2="241.3" y2="575.1" stroke="#efefef" stroke-width="0.8"/>
<line x1="306.2" y1="367.2" x2="306.2" y2="575.1" stroke="#efefef" stroke-width="0.8"/>
<line x1="370.9" y1="367.2" x2="370.9" y2="575.1" stroke="#efefef" stroke-width="0.8"/>
<line x1="435.9" y1="367.2" x2="435.9" y2="575.1" stroke="#efefef" stroke-width="0.8"/>
<line x1="153.2" y1="537.35" x2="467.4" y2="537.35" stroke="#efefef" stroke-width="0.8"/>
<line x1="153.2" y1="483.05" x2="467.4" y2="483.05" stroke="#efefef" stroke-width="0.8"/>
<line x1="153.2" y1="428.75" x2="467.4" y2="428.75" stroke="#efefef" stroke-width="0.8"/>
<line x1="153.2" y1="374.45" x2="467.4" y2="374.45" stroke="#efefef" stroke-width="0.8"/>
<line x1="208.9" y1="367.2" x2="208.9" y2="575.1" stroke="#e6e6e6" stroke-width="1.1"/>
<line x1="273.5" y1="367.2" x2="273.5" y2="575.1" stroke="#e6e6e6" stroke-width="1.1"/>
<line x1="338.3" y1="367.2" x2="338.3" y2="575.1" stroke="#e6e6e6" stroke-width="1.1"/>
<line x1="403.4" y1="367.2" x2="403.4" y2="575.1" stroke="#e6e6e6" stroke-width="1.1"/>
<line x1="153.2" y1="564.50" x2="467.4" y2="564.50" stroke="#e6e6e6" stroke-width="1.1"/>
<line x1="153.2" y1="510.20" x2="467.4" y2="510.20" stroke="#e6e6e6" stroke-width="1.1"/>
<line x1="153.2" y1="455.90" x2="467.4" y2="455.90" stroke="#e6e6e6" stroke-width="1.1"/>
<line x1="153.2" y1="401.60" x2="467.4" y2="401.60" stroke="#e6e6e6" stroke-width="1.1"/>
<rect x="167.2" y="450.4" width="8.65" height="114.10" fill="#D95F02"/>
<rect x="175.85" y="376.5" width="8.65" height="188.00" fill="#377EB8"/>
<rect x="250.1" y="520.3" width="8.65" height="44.20" fill="#D95F02"/>
<rect x="258.75" y="472.0" width="8.65" height="92.50" fill="#377EB8"/>
<rect x="269.3" y="472.3" width="8.65" height="92.20" fill="#D95F02"/>
<rect x="277.95" y="408.7" width="8.65" height="155.80" fill="#377EB8"/>
<rect x="294.2" y="546.0" width="8.65" height="18.50" fill="#D95F02"/>
<rect x="302.84999999999997" y="490.8" width="8.65" height="73.70" fill="#377EB8"/>
<rect x="348.1" y="509.7" width="8.65" height="54.80" fill="#D95F02"/>
<rect x="356.75" y="435.4" width="8.65" height="129.10" fill="#377EB8"/>
<rect x="376.1" y="508.7" width="8.65" height="55.80" fill="#D95F02"/>
<rect x="384.75" y="442.8" width="8.65" height="121.70" fill="#377EB8"/>
<rect x="436.0" y="564.5" width="8.65" height="1.6" fill="#D95F02"/>
<rect x="444.65" y="536.7" width="8.65" height="27.80" fill="#377EB8"/>
<rect x="153.2" y="367.2" width="314.2" height="207.90000000000003" fill="none" stroke="#5e5e5e" stroke-width="1.3"/>
<line x1="149.3" y1="401.60" x2="153.2" y2="401.60" stroke="#333" stroke-width="1.1"/>
<text x="146.6" y="406.30" font-size="13.2" fill="#4d4d4d" text-anchor="end" font-weight="normal" textLength="28.4" lengthAdjust="spacingAndGlyphs">0.006</text>
<line x1="149.3" y1="455.90" x2="153.2" y2="455.90" stroke="#333" stroke-width="1.1"/>
<text x="146.6" y="460.60" font-size="13.2" fill="#4d4d4d" text-anchor="end" font-weight="normal" textLength="28.4" lengthAdjust="spacingAndGlyphs">0.004</text>
<line x1="149.3" y1="510.20" x2="153.2" y2="510.20" stroke="#333" stroke-width="1.1"/>
<text x="146.6" y="514.90" font-size="13.2" fill="#4d4d4d" text-anchor="end" font-weight="normal" textLength="28.4" lengthAdjust="spacingAndGlyphs">0.002</text>
<line x1="149.3" y1="564.50" x2="153.2" y2="564.50" stroke="#333" stroke-width="1.1"/>
<text x="146.6" y="569.20" font-size="13.2" fill="#4d4d4d" text-anchor="end" font-weight="normal" textLength="28.4" lengthAdjust="spacingAndGlyphs">0.000</text>
<line x1="208.9" y1="575.1" x2="208.9" y2="579.4" stroke="#333" stroke-width="1.2"/>
<text transform="translate(208.9,592.4) scale(1,1.1)" x="0" y="0" font-size="11.8" fill="#4d4d4d" text-anchor="middle" font-weight="normal" textLength="41.2" lengthAdjust="spacingAndGlyphs">68.5127</text>
<line x1="273.5" y1="575.1" x2="273.5" y2="579.4" stroke="#333" stroke-width="1.2"/>
<text transform="translate(273.5,592.4) scale(1,1.1)" x="0" y="0" font-size="11.8" fill="#4d4d4d" text-anchor="middle" font-weight="normal" textLength="41.2" lengthAdjust="spacingAndGlyphs">68.5128</text>
<line x1="338.3" y1="575.1" x2="338.3" y2="579.4" stroke="#333" stroke-width="1.2"/>
<text transform="translate(338.3,592.4) scale(1,1.1)" x="0" y="0" font-size="11.8" fill="#4d4d4d" text-anchor="middle" font-weight="normal" textLength="41.2" lengthAdjust="spacingAndGlyphs">68.5129</text>
<line x1="403.4" y1="575.1" x2="403.4" y2="579.4" stroke="#333" stroke-width="1.2"/>
<text transform="translate(403.4,592.4) scale(1,1.1)" x="0" y="0" font-size="11.8" fill="#4d4d4d" text-anchor="middle" font-weight="normal" textLength="41.2" lengthAdjust="spacingAndGlyphs">68.5130</text>
<text transform="translate(309.8,612.0) scale(1,1.1)" x="0" y="0" font-size="14.4" fill="#000" text-anchor="middle" font-weight="normal" textLength="141" lengthAdjust="spacingAndGlyphs">Physical Location (Mb)</text>
<text transform="translate(107.5,471.0) rotate(-90)" x="0" y="0" font-size="15.4" text-anchor="middle" textLength="217" lengthAdjust="spacingAndGlyphs">Change in Meta Beta Per Year</text>
<text x="488" y="450.8" font-size="14.2" fill="#000" text-anchor="start" font-weight="normal" textLength="34.6" lengthAdjust="spacingAndGlyphs">group</text>
<rect x="488.3" y="458" width="18.8" height="20.5" fill="#D95F02"/>
<rect x="488.3" y="481.1" width="18.8" height="20.8" fill="#377EB8"/>
<text x="511.1" y="473" font-size="13.6" fill="#000" text-anchor="start" font-weight="normal" textLength="23.7" lengthAdjust="spacingAndGlyphs">case</text>
<text x="511.1" y="496" font-size="13.6" fill="#000" text-anchor="start" font-weight="normal" textLength="33.9" lengthAdjust="spacingAndGlyphs">control</text>
<polyline points="159.8,581 331.4,653.1 465.5,577.8" fill="none" stroke="#111" stroke-width="1.8" stroke-dasharray="1.8,1.75"/>
<line x1="331.4" y1="649.2" x2="331.4" y2="653.5" stroke="#111" stroke-width="1.2"/>
<text transform="translate(-0.1,668.5) scale(1.06,1.12)" x="0" y="0" font-size="19.6" fill="#000" text-anchor="start" font-weight="bold" >c</text>
<line x1="112.8" y1="664.3" x2="489.7" y2="664.3" stroke="#555" stroke-width="0.9"/>
<polyline points="483.9,660.4 489.7,664.3 483.9,668.3" fill="none" stroke="#555" stroke-width="0.9"/>
<line x1="112.8" y1="672.7" x2="489.7" y2="672.7" stroke="#999" stroke-width="1.8"/>
<polyline points="120.5,668.3 112.8,672.7 120.5,677.6" fill="none" stroke="#888" stroke-width="1.2"/>
<text x="124.9" y="664.0" font-size="6.3" fill="#333" text-anchor="start" font-weight="normal" textLength="78" lengthAdjust="spacingAndGlyphs">GNG12-AS1 (non-coding gene)</text>
<text x="401.8" y="671.6" font-size="6.3" fill="#333" text-anchor="start" font-weight="normal" textLength="74.4" lengthAdjust="spacingAndGlyphs">DIRAS3 (protein-coding gene)</text>
<rect x="42" y="682" width="21.9" height="206" fill="#6e6e6e"/>
<text transform="translate(54.4,785.4) rotate(-90)" x="0" y="0" font-size="9.2" font-weight="bold" fill="#f2f2f2" text-anchor="middle" textLength="108.7" lengthAdjust="spacingAndGlyphs">GNG12-AS1 and DIRAS3</text>
<text x="117.9" y="705.9" font-size="9.3" fill="#7c7c7c" text-anchor="end" font-weight="bold" textLength="46.6" lengthAdjust="spacingAndGlyphs">GNG12-AS1</text>
<line x1="125.9" y1="702.4" x2="499" y2="702.4" stroke="#aaa" stroke-width="1" stroke-dasharray="1,0.6"/>
<line x1="125.9" y1="686.6" x2="125.9" y2="717.8" stroke="#999" stroke-width="1.1"/>
<line x1="330.2" y1="686.6" x2="330.2" y2="717.8" stroke="#999" stroke-width="1.1"/>
<line x1="367.6" y1="686.6" x2="367.6" y2="717.8" stroke="#999" stroke-width="1.1"/>
<line x1="413.7" y1="686.6" x2="413.7" y2="717.8" stroke="#999" stroke-width="1.1"/>
<line x1="417.4" y1="686.6" x2="417.4" y2="717.8" stroke="#999" stroke-width="1.1"/>
<line x1="434.6" y1="686.6" x2="434.6" y2="717.8" stroke="#999" stroke-width="1.1"/>
<line x1="394.5" y1="686.6" x2="394.5" y2="717.8" stroke="#999" stroke-width="1.6"/>
<line x1="396.8" y1="686.6" x2="396.8" y2="717.8" stroke="#999" stroke-width="1.2"/>
<line x1="499" y1="686.6" x2="499" y2="717.8" stroke="#888" stroke-width="1.6"/>
<text x="117.9" y="747.5" font-size="9.3" fill="#7c7c7c" text-anchor="end" font-weight="bold" textLength="46.6" lengthAdjust="spacingAndGlyphs">GNG12-AS1</text>
<line x1="125.9" y1="744.0" x2="499" y2="744.0" stroke="#aaa" stroke-width="1" stroke-dasharray="1,0.6"/>
<line x1="125.9" y1="728.2" x2="125.9" y2="759.5" stroke="#999" stroke-width="1.1"/>
<line x1="250.6" y1="728.2" x2="250.6" y2="759.5" stroke="#999" stroke-width="1.1"/>
<line x1="367.6" y1="728.2" x2="367.6" y2="759.5" stroke="#999" stroke-width="1.1"/>
<line x1="413.7" y1="728.2" x2="413.7" y2="759.5" stroke="#999" stroke-width="1.1"/>
<line x1="417.4" y1="728.2" x2="417.4" y2="759.5" stroke="#999" stroke-width="1.1"/>
<line x1="394.4" y1="728.2" x2="394.4" y2="759.5" stroke="#999" stroke-width="1.3"/>
<line x1="398.5" y1="728.2" x2="398.5" y2="759.5" stroke="#999" stroke-width="1.3"/>
<line x1="499" y1="728.2" x2="499" y2="759.5" stroke="#888" stroke-width="1.6"/>
<text x="243.1" y="789.3" font-size="9.3" fill="#7c7c7c" text-anchor="end" font-weight="bold" textLength="47.3" lengthAdjust="spacingAndGlyphs">GNG12-AS1</text>
<line x1="250.6" y1="785.8" x2="319.5" y2="785.8" stroke="#aaa" stroke-width="1" stroke-dasharray="1,0.6"/>
<line x1="250.6" y1="769.1" x2="250.6" y2="800.8" stroke="#999" stroke-width="1.3"/>
<line x1="320.2" y1="769.1" x2="320.2" y2="800.8" stroke="#bbb" stroke-width="1.4"/>
<line x1="322.6" y1="769.1" x2="322.6" y2="800.8" stroke="#bbb" stroke-width="1.4"/>
<text x="426.4" y="789.3" font-size="9.3" fill="#7c7c7c" text-anchor="end" font-weight="bold" textLength="46.2" lengthAdjust="spacingAndGlyphs">GNG12-AS1</text>
<line x1="434.3" y1="769.1" x2="434.3" y2="800.8" stroke="#999" stroke-width="1.1"/>
<line x1="437.7" y1="769.1" x2="437.7" y2="800.8" stroke="#999" stroke-width="1.1"/>
<line x1="434.3" y1="785.7" x2="437.7" y2="785.7" stroke="#aaa" stroke-width="0.8"/>
<text x="334.5" y="830.8" font-size="9.3" fill="#7c7c7c" text-anchor="end" font-weight="bold" textLength="30.7" lengthAdjust="spacingAndGlyphs">DIRAS3</text>
<line x1="342.9" y1="810.7" x2="342.9" y2="841.9" stroke="#4a8a4a" stroke-width="1.3"/>
<line x1="346.2" y1="810.7" x2="346.2" y2="841.9" stroke="#999" stroke-width="1.1"/>
<line x1="342.9" y1="827.3" x2="346.2" y2="827.3" stroke="#aaa" stroke-width="0.8"/>
<text x="334.5" y="872.3" font-size="9.3" fill="#7c7c7c" text-anchor="end" font-weight="bold" textLength="30.7" lengthAdjust="spacingAndGlyphs">DIRAS3</text>
<line x1="342.9" y1="852.2" x2="342.9" y2="883.8" stroke="#4a8a4a" stroke-width="1.3"/>
<line x1="346.2" y1="852.2" x2="346.2" y2="883.8" stroke="#999" stroke-width="1.1"/>
<line x1="342.9" y1="868.8" x2="346.2" y2="868.8" stroke="#aaa" stroke-width="0.8"/>
<line x1="69" y1="898.6" x2="502.8" y2="898.6" stroke="#8a8a8a" stroke-width="2"/>
<text transform="translate(110.5,896.6) scale(1,1.2)" x="0" y="0" font-size="9.4" fill="#222" text-anchor="start" font-weight="normal" textLength="34" lengthAdjust="spacingAndGlyphs">68.3 mb</text>
<text transform="translate(312,896.4) scale(1,1.2)" x="0" y="0" font-size="9.4" fill="#222" text-anchor="start" font-weight="normal" textLength="34.7" lengthAdjust="spacingAndGlyphs">68.5 mb</text>
<text transform="translate(211.4,908.5) scale(1,1.2)" x="0" y="0" font-size="9.4" fill="#222" text-anchor="start" font-weight="normal" textLength="34.9" lengthAdjust="spacingAndGlyphs">68.4 mb</text>
<text transform="translate(412.8,908.5) scale(1,1.2)" x="0" y="0" font-size="9.4" fill="#222" text-anchor="start" font-weight="normal" textLength="34.6" lengthAdjust="spacingAndGlyphs">68.6 mb</text>
<text transform="translate(68,930.1) scale(1,1.04)" x="0" y="0" font-size="11" fill="#222" text-anchor="start" font-weight="normal" textLength="65" lengthAdjust="spacingAndGlyphs">Chromosome 1</text>
<defs><clipPath id="chr"><path d="M153,918.9 L322,918.9 L327.4,925.85 L333.4,918.9 L499,918.9 Q503.5,918.9 503.5,925.85 Q503.5,932.8 499,932.8 L333.4,932.8 L327.4,925.85 L322,932.8 L153,932.8 Q149.2,932.8 149.2,925.85 Q149.2,918.9 153,918.9 Z"/></clipPath></defs>
<g clip-path="url(#chr)"><rect x="149" y="918" width="356" height="16" fill="#fff"/>
<rect x="151.7" y="918.9" width="4.40" height="13.90" fill="#cfcfcf"/>
<rect x="159.8" y="918.9" width="3.00" height="13.90" fill="#bdbdbd"/>
<rect x="167.3" y="918.9" width="4.40" height="13.90" fill="#888"/>
<rect x="178.4" y="918.9" width="4.40" height="13.90" fill="#bdbdbd"/>
<rect x="188.8" y="918.9" width="3.70" height="13.90" fill="#cfcfcf"/>
<rect x="195.4" y="918.9" width="3.00" height="13.90" fill="#c4c4c4"/>
<rect x="205.8" y="918.9" width="6.00" height="13.90" fill="#cfcfcf"/>
<rect x="215.9" y="918.9" width="5.10" height="13.90" fill="#333"/>
<rect x="229.3" y="918.9" width="3.50" height="13.90" fill="#888"/>
<rect x="236.7" y="918.9" width="10.20" height="13.90" fill="#888"/>
<rect x="246.9" y="918.9" width="23.00" height="13.90" fill="#000"/>
<rect x="274.8" y="918.9" width="4.70" height="13.90" fill="#444"/>
<rect x="284.0" y="918.9" width="5.90" height="13.90" fill="#555"/>
<rect x="294.3" y="918.9" width="6.70" height="13.90" fill="#000"/>
<rect x="307.7" y="918.9" width="5.90" height="13.90" fill="#888"/>
<rect x="316.6" y="918.9" width="4.40" height="13.90" fill="#999"/>
<rect x="333.4" y="918.9" width="17.80" height="13.90" fill="#000"/>
<rect x="358.3" y="918.9" width="3.50" height="13.90" fill="#888"/>
<rect x="370.4" y="918.9" width="1.80" height="13.90" fill="#aaa"/>
<rect x="375.6" y="918.9" width="1.50" height="13.90" fill="#999"/>
<rect x="384.5" y="918.9" width="2.30" height="13.90" fill="#999"/>
<rect x="392.0" y="918.9" width="2.20" height="13.90" fill="#444"/>
<rect x="399.4" y="918.9" width="5.20" height="13.90" fill="#888"/>
<rect x="413.2" y="918.9" width="6.80" height="13.90" fill="#000"/>
<rect x="424.6" y="918.9" width="6.50" height="13.90" fill="#000"/>
<rect x="444.2" y="918.9" width="5.20" height="13.90" fill="#bdbdbd"/>
<rect x="454.3" y="918.9" width="12.40" height="13.90" fill="#000"/>
<rect x="466.7" y="918.9" width="4.90" height="13.90" fill="#cfcfcf"/>
<rect x="477.1" y="918.9" width="4.60" height="13.90" fill="#888"/>
<rect x="485.8" y="918.9" width="9.00" height="13.90" fill="#444"/>
<path d="M322,918.9 L327.4,925.85 L322,932.8 Z" fill="#a52a2a"/>
<path d="M333.4,918.9 L327.4,925.85 L333.4,932.8 Z" fill="#a52a2a"/>
</g>
<path d="M153,918.9 L322,918.9 L327.4,925.85 L333.4,918.9 L499,918.9 Q503.5,918.9 503.5,925.85 Q503.5,932.8 499,932.8 L333.4,932.8 L327.4,925.85 L322,932.8 L153,932.8 Q149.2,932.8 149.2,925.85 Q149.2,918.9 153,918.9 Z" fill="none" stroke="#333" stroke-width="0.9"/>
<line x1="246.9" y1="910.9" x2="246.9" y2="941" stroke="#e8141c" stroke-width="2"/>
</svg>
</body></html>
